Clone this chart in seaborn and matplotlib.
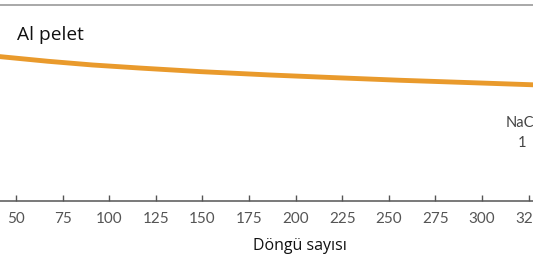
import matplotlib
matplotlib.use("Agg")
import matplotlib.pyplot as plt
import seaborn as sns
import pandas as pd

# Data (y in relative units 0-100 of the visible frame)
cycles = [30, 41, 67, 91, 117, 149, 186, 219, 256, 290, 327, 340]
capacity = [74.8, 73.7, 71.3, 69.4, 67.8, 66.0, 64.3, 63.0, 61.6, 60.5, 59.3, 58.9]
xticks = [0, 25, 50, 75, 100, 125, 150, 175, 200, 225, 250, 275, 300, 325, 350]
series_label = "Al pelet"
xlabel = "Döngü sayısı"
note_lines = ["NaCl", "1"]

df = pd.DataFrame({"cycle": cycles, "capacity": capacity})

sns.set_theme(style="white")
plt.rcParams["font.family"] = ["Lato", "DejaVu Sans"]

W, H = 533, 261
fig = plt.figure(figsize=(W / 100, H / 100), dpi=100)
ax = fig.add_axes([0, (H - 201) / H, 1, (201 - 5) / H])

sns.lineplot(data=df, x="cycle", y="capacity", ax=ax, color="#E99A2C",
             linewidth=3.5, solid_capstyle="round")

ax.set_xticks(xticks)
ax.set_xlim(41.42, 327.3)
ax.set_ylim(0, 100)
ax.set_yticks([])
ax.set_ylabel("")
for s in ["left", "right"]:
    ax.spines[s].set_visible(False)
ax.spines["top"].set_color("#9a9a9a")
ax.spines["top"].set_linewidth(1.2)
ax.spines["bottom"].set_color("#555555")
ax.spines["bottom"].set_linewidth(1.1)
ax.tick_params(axis="x", direction="in", length=4, width=1, color="#555555",
               labelsize=11, labelcolor="#555555", pad=8, bottom=True)

ax.set_xlabel(xlabel, fontsize=11.5, color="#111111", family=["Open Sans", "DejaVu Sans"])
ax.xaxis.set_label_coords(300 / W, -0.23)
ax.xaxis.label.set_va("center")

fig.text(17 / W, 1 - 35 / H, series_label, fontsize=13.8, color="#111111",
         ha="left", va="center", family=["Open Sans", "DejaVu Sans"])
fig.text(506 / W, 1 - 122.7 / H, note_lines[0], fontsize=10.5, color="#444444",
         ha="left", va="center")
fig.text(518 / W, 1 - 142.7 / H, note_lines[1], fontsize=10.5, color="#444444",
         ha="left", va="center")

fig.savefig("out.png", dpi=100)
